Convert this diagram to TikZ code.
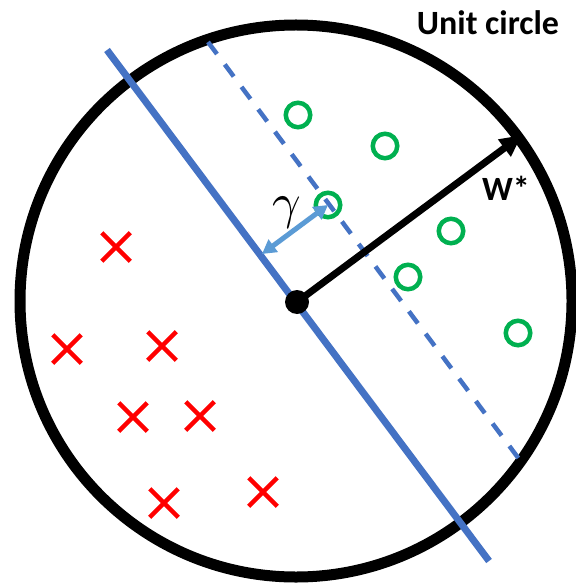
\documentclass[tikz,border=0pt]{standalone}
\usepackage{fontspec}
\setmainfont{Carlito}
\usetikzlibrary{arrows.meta,shapes.misc}
\definecolor{lineblue}{RGB}{68,114,196}
\definecolor{gammablue}{RGB}{91,155,213}
\definecolor{ptgreen}{RGB}{0,176,80}
\definecolor{ptred}{RGB}{255,0,0}
\begin{document}
\begin{tikzpicture}[x=1pt,y=-1pt,
  posring/.style={circle,draw=ptgreen,line width=4.5pt,minimum size=24.5pt,inner sep=0pt},
  negcross/.style={cross out,draw=ptred,line width=4.5pt,minimum size=24pt,inner sep=0pt},
  unitring/.style={circle,draw=black,line width=11pt,minimum size=552pt,inner sep=0pt},
  origindot/.style={circle,fill=black,minimum size=24pt,inner sep=0pt},
  sepline/.style={draw=lineblue,line width=7pt},
  marginline/.style={draw=lineblue,line width=4.5pt,dash pattern=on 15pt off 13pt},
  wvector/.style={draw=black,line width=7pt,-{Triangle[length=22pt,width=20pt]}},
  gammarrow/.style={draw=gammablue,line width=5pt,{Triangle[length=14pt,width=15pt]}-{Triangle[length=14pt,width=15pt]}},
  biglabel/.style={font=\fontsize{34}{34}\selectfont\bfseries,inner sep=0pt}]
\useasboundingbox (0,0) rectangle (575,585);
\fill[white] (0,0) rectangle (575,585);
\node[unitring] (uc) at (296,301) {};
\coordinate (sA) at (107,50);
\coordinate (sB) at (489,561);
\coordinate (dA) at (208,42);
\coordinate (dB) at (522,463);
\coordinate (wt) at (522,135);
\coordinate (ft) at (262,254);
\path[sepline] (sA) -- (sB);
\path[marginline] (dA) -- (dB);
\node[origindot] (o) at (297,302) {};
\path[wvector] (o.center) -- (wt);
\node[posring] (p1) at (298,115) {};
\node[posring] (p2) at (385,146) {};
\node[posring] (p3) at (328,205) {};
\node[posring] (p4) at (451,231) {};
\node[posring] (p5) at (408,277) {};
\node[posring] (p6) at (518,333) {};
\node[negcross] (n1) at (116,247) {};
\node[negcross] (n2) at (67,349) {};
\node[negcross] (n3) at (162,346) {};
\node[negcross] (n4) at (133,417) {};
\node[negcross] (n5) at (200,416) {};
\node[negcross] (n6) at (164,503) {};
\node[negcross] (n7) at (263,492) {};
\path[gammarrow] (p3.center) -- (ft);
\node[scale=5,inner sep=0pt] (g) at (287,213) {$\gamma$};
\node[biglabel] (t1) at (488,23) {Unit circle};
\node[biglabel] (t2) at (506,188) {W*};
\end{tikzpicture}
\end{document}
